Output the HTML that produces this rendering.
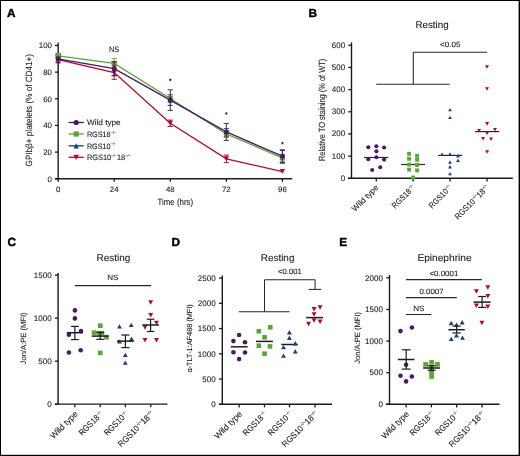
<!DOCTYPE html>
<html><head><meta charset="utf-8"><style>
html,body{margin:0;padding:0;background:#fff;}
svg{display:block;font-family:"Liberation Sans", sans-serif;will-change:transform;text-rendering:geometricPrecision;}
text{stroke:#1c1c1c;stroke-width:0.1px;}
</style></head><body>
<svg width="520" height="456" viewBox="0 0 520 456">
<rect width="520" height="456" fill="#fff"/>
<rect x="0" y="0" width="520" height="1" fill="#000"/>
<rect x="0" y="0" width="1" height="456" fill="#000"/>
<rect x="518.6" y="0" width="1.4" height="456" fill="#000"/>
<rect x="0" y="454.8" width="520" height="1.2" fill="#000"/>
<text x="7.00" y="16.90" font-size="11.8" text-anchor="start" fill="#000" font-weight="bold" style="stroke:#000;stroke-width:0.45px">A</text>
<text x="308.60" y="17.10" font-size="11.8" text-anchor="start" fill="#000" font-weight="bold" style="stroke:#000;stroke-width:0.45px">B</text>
<text x="7.60" y="246.30" font-size="11.8" text-anchor="start" fill="#000" font-weight="bold" style="stroke:#000;stroke-width:0.45px">C</text>
<text x="171.50" y="246.30" font-size="11.8" text-anchor="start" fill="#000" font-weight="bold" style="stroke:#000;stroke-width:0.45px">D</text>
<text x="339.30" y="245.90" font-size="11.8" text-anchor="start" fill="#000" font-weight="bold" style="stroke:#000;stroke-width:0.45px">E</text>
<line x1="58.15" y1="42.40" x2="58.15" y2="181.75" stroke="#1a1a1a" stroke-width="1.4"/>
<line x1="54.90" y1="178.75" x2="292.20" y2="178.75" stroke="#1a1a1a" stroke-width="1.4"/>
<line x1="54.90" y1="178.75" x2="58.15" y2="178.75" stroke="#1a1a1a" stroke-width="1.3"/>
<text x="52.00" y="181.50" font-size="7.9" text-anchor="end" fill="#1c1c1c" font-weight="normal">0</text>
<line x1="54.90" y1="152.09" x2="58.15" y2="152.09" stroke="#1a1a1a" stroke-width="1.3"/>
<text x="52.00" y="154.84" font-size="7.9" text-anchor="end" fill="#1c1c1c" font-weight="normal">20</text>
<line x1="54.90" y1="125.43" x2="58.15" y2="125.43" stroke="#1a1a1a" stroke-width="1.3"/>
<text x="52.00" y="128.18" font-size="7.9" text-anchor="end" fill="#1c1c1c" font-weight="normal">40</text>
<line x1="54.90" y1="98.77" x2="58.15" y2="98.77" stroke="#1a1a1a" stroke-width="1.3"/>
<text x="52.00" y="101.52" font-size="7.9" text-anchor="end" fill="#1c1c1c" font-weight="normal">60</text>
<line x1="54.90" y1="72.11" x2="58.15" y2="72.11" stroke="#1a1a1a" stroke-width="1.3"/>
<text x="52.00" y="74.86" font-size="7.9" text-anchor="end" fill="#1c1c1c" font-weight="normal">80</text>
<line x1="54.90" y1="45.45" x2="58.15" y2="45.45" stroke="#1a1a1a" stroke-width="1.3"/>
<text x="52.00" y="48.20" font-size="7.9" text-anchor="end" fill="#1c1c1c" font-weight="normal">100</text>
<line x1="114.21" y1="178.75" x2="114.21" y2="181.85" stroke="#1a1a1a" stroke-width="1.3"/>
<line x1="170.28" y1="178.75" x2="170.28" y2="181.85" stroke="#1a1a1a" stroke-width="1.3"/>
<line x1="226.34" y1="178.75" x2="226.34" y2="181.85" stroke="#1a1a1a" stroke-width="1.3"/>
<line x1="282.40" y1="178.75" x2="282.40" y2="181.85" stroke="#1a1a1a" stroke-width="1.3"/>
<text x="58.15" y="192.40" font-size="7.8" text-anchor="middle" fill="#1c1c1c" font-weight="normal">0</text>
<text x="114.21" y="192.40" font-size="7.8" text-anchor="middle" fill="#1c1c1c" font-weight="normal">24</text>
<text x="170.28" y="192.40" font-size="7.8" text-anchor="middle" fill="#1c1c1c" font-weight="normal">48</text>
<text x="226.34" y="192.40" font-size="7.8" text-anchor="middle" fill="#1c1c1c" font-weight="normal">72</text>
<text x="282.40" y="192.40" font-size="7.8" text-anchor="middle" fill="#1c1c1c" font-weight="normal">96</text>
<text x="175.30" y="204.90" font-size="9.0" text-anchor="middle" fill="#1c1c1c" font-weight="normal" textLength="35.60" lengthAdjust="spacingAndGlyphs">Time (hrs)</text>
<text transform="translate(32.30,110.20) rotate(-90)" font-size="9.1" text-anchor="middle" fill="#1c1c1c" textLength="112.50" lengthAdjust="spacingAndGlyphs">GPIbβ+ platelets (% of CD41+)</text>
<text x="114.10" y="51.70" font-size="8.0" text-anchor="middle" fill="#1c1c1c" font-weight="normal" textLength="10.30" lengthAdjust="spacingAndGlyphs">NS</text>
<polygon points="170.28,78.25 170.75,79.25 171.84,79.39 171.04,80.15 171.24,81.23 170.28,80.70 169.31,81.23 169.51,80.15 168.71,79.39 169.80,79.25" fill="#1c1c1c"/>
<polygon points="226.34,111.85 226.81,112.85 227.91,112.99 227.10,113.75 227.31,114.83 226.34,114.30 225.37,114.83 225.58,113.75 224.77,112.99 225.87,112.85" fill="#1c1c1c"/>
<polygon points="282.40,141.45 282.87,142.45 283.97,142.59 283.16,143.35 283.37,144.43 282.40,143.90 281.43,144.43 281.64,143.35 280.83,142.59 281.93,142.45" fill="#1c1c1c"/>
<polyline points="58.15,55.80 114.21,63.40 170.28,98.50 226.34,134.00 282.40,157.80" fill="none" stroke="#59a837" stroke-width="1.35"/>
<polyline points="58.15,59.60 114.21,72.60 170.28,123.30 226.34,158.80 282.40,171.60" fill="none" stroke="#b00b2e" stroke-width="1.35"/>
<polyline points="58.15,58.90 114.21,68.70 170.28,100.10 226.34,131.90 282.40,156.20" fill="none" stroke="#4a1966" stroke-width="1.35"/>
<line x1="114.21" y1="61.60" x2="114.21" y2="75.80" stroke="#1a3f80" stroke-width="0.95"/>
<line x1="111.61" y1="61.60" x2="116.81" y2="61.60" stroke="#1a3f80" stroke-width="0.95"/>
<line x1="111.61" y1="75.80" x2="116.81" y2="75.80" stroke="#1a3f80" stroke-width="0.95"/>
<line x1="170.28" y1="94.80" x2="170.28" y2="105.40" stroke="#1a3f80" stroke-width="0.95"/>
<line x1="167.68" y1="94.80" x2="172.88" y2="94.80" stroke="#1a3f80" stroke-width="0.95"/>
<line x1="167.68" y1="105.40" x2="172.88" y2="105.40" stroke="#1a3f80" stroke-width="0.95"/>
<line x1="226.34" y1="128.60" x2="226.34" y2="136.60" stroke="#1a3f80" stroke-width="0.95"/>
<line x1="223.74" y1="128.60" x2="228.94" y2="128.60" stroke="#1a3f80" stroke-width="0.95"/>
<line x1="223.74" y1="136.60" x2="228.94" y2="136.60" stroke="#1a3f80" stroke-width="0.95"/>
<line x1="282.40" y1="150.60" x2="282.40" y2="163.20" stroke="#1a3f80" stroke-width="0.95"/>
<line x1="279.80" y1="150.60" x2="285.00" y2="150.60" stroke="#1a3f80" stroke-width="0.95"/>
<line x1="279.80" y1="163.20" x2="285.00" y2="163.20" stroke="#1a3f80" stroke-width="0.95"/>
<path d="M58.15 56.40L60.77 61.40L55.52 61.40Z" fill="#1a3f80"/>
<path d="M114.21 66.20L116.84 71.20L111.59 71.20Z" fill="#1a3f80"/>
<path d="M170.28 97.60L172.90 102.60L167.65 102.60Z" fill="#1a3f80"/>
<path d="M226.34 130.10L228.96 135.10L223.71 135.10Z" fill="#1a3f80"/>
<path d="M282.40 154.40L285.02 159.40L279.77 159.40Z" fill="#1a3f80"/>
<line x1="58.15" y1="53.30" x2="58.15" y2="58.30" stroke="#59a837" stroke-width="0.95"/>
<line x1="55.55" y1="53.30" x2="60.75" y2="53.30" stroke="#59a837" stroke-width="0.95"/>
<line x1="55.55" y1="58.30" x2="60.75" y2="58.30" stroke="#59a837" stroke-width="0.95"/>
<line x1="114.21" y1="58.60" x2="114.21" y2="68.20" stroke="#59a837" stroke-width="0.95"/>
<line x1="111.61" y1="58.60" x2="116.81" y2="58.60" stroke="#59a837" stroke-width="0.95"/>
<line x1="111.61" y1="68.20" x2="116.81" y2="68.20" stroke="#59a837" stroke-width="0.95"/>
<line x1="170.28" y1="94.50" x2="170.28" y2="102.50" stroke="#59a837" stroke-width="0.95"/>
<line x1="167.68" y1="94.50" x2="172.88" y2="94.50" stroke="#59a837" stroke-width="0.95"/>
<line x1="167.68" y1="102.50" x2="172.88" y2="102.50" stroke="#59a837" stroke-width="0.95"/>
<line x1="226.34" y1="130.50" x2="226.34" y2="137.50" stroke="#59a837" stroke-width="0.95"/>
<line x1="223.74" y1="130.50" x2="228.94" y2="130.50" stroke="#59a837" stroke-width="0.95"/>
<line x1="223.74" y1="137.50" x2="228.94" y2="137.50" stroke="#59a837" stroke-width="0.95"/>
<line x1="282.40" y1="154.30" x2="282.40" y2="161.30" stroke="#59a837" stroke-width="0.95"/>
<line x1="279.80" y1="154.30" x2="285.00" y2="154.30" stroke="#59a837" stroke-width="0.95"/>
<line x1="279.80" y1="161.30" x2="285.00" y2="161.30" stroke="#59a837" stroke-width="0.95"/>
<rect x="55.65" y="53.30" width="5.0" height="5.0" fill="#59a837"/>
<rect x="111.71" y="60.90" width="5.0" height="5.0" fill="#59a837"/>
<rect x="167.78" y="96.00" width="5.0" height="5.0" fill="#59a837"/>
<rect x="223.84" y="131.50" width="5.0" height="5.0" fill="#59a837"/>
<rect x="279.90" y="155.30" width="5.0" height="5.0" fill="#59a837"/>
<line x1="58.15" y1="56.60" x2="58.15" y2="62.60" stroke="#b00b2e" stroke-width="0.95"/>
<line x1="55.55" y1="56.60" x2="60.75" y2="56.60" stroke="#b00b2e" stroke-width="0.95"/>
<line x1="55.55" y1="62.60" x2="60.75" y2="62.60" stroke="#b00b2e" stroke-width="0.95"/>
<line x1="114.21" y1="65.90" x2="114.21" y2="79.30" stroke="#b00b2e" stroke-width="0.95"/>
<line x1="111.61" y1="65.90" x2="116.81" y2="65.90" stroke="#b00b2e" stroke-width="0.95"/>
<line x1="111.61" y1="79.30" x2="116.81" y2="79.30" stroke="#b00b2e" stroke-width="0.95"/>
<line x1="170.28" y1="120.10" x2="170.28" y2="126.50" stroke="#b00b2e" stroke-width="0.95"/>
<line x1="167.68" y1="120.10" x2="172.88" y2="120.10" stroke="#b00b2e" stroke-width="0.95"/>
<line x1="167.68" y1="126.50" x2="172.88" y2="126.50" stroke="#b00b2e" stroke-width="0.95"/>
<line x1="226.34" y1="155.00" x2="226.34" y2="162.60" stroke="#b00b2e" stroke-width="0.95"/>
<line x1="223.74" y1="155.00" x2="228.94" y2="155.00" stroke="#b00b2e" stroke-width="0.95"/>
<line x1="223.74" y1="162.60" x2="228.94" y2="162.60" stroke="#b00b2e" stroke-width="0.95"/>
<path d="M55.52 57.10L60.77 57.10L58.15 62.10Z" fill="#b00b2e"/>
<path d="M111.59 70.10L116.84 70.10L114.21 75.10Z" fill="#b00b2e"/>
<path d="M167.65 120.80L172.90 120.80L170.28 125.80Z" fill="#b00b2e"/>
<path d="M223.71 156.30L228.96 156.30L226.34 161.30Z" fill="#b00b2e"/>
<path d="M279.77 169.10L285.02 169.10L282.40 174.10Z" fill="#b00b2e"/>
<line x1="58.15" y1="55.00" x2="58.15" y2="62.80" stroke="#4a1966" stroke-width="0.95"/>
<line x1="55.55" y1="55.00" x2="60.75" y2="55.00" stroke="#4a1966" stroke-width="0.95"/>
<line x1="55.55" y1="62.80" x2="60.75" y2="62.80" stroke="#4a1966" stroke-width="0.95"/>
<line x1="114.21" y1="61.80" x2="114.21" y2="75.60" stroke="#4a1966" stroke-width="0.95"/>
<line x1="111.61" y1="61.80" x2="116.81" y2="61.80" stroke="#4a1966" stroke-width="0.95"/>
<line x1="111.61" y1="75.60" x2="116.81" y2="75.60" stroke="#4a1966" stroke-width="0.95"/>
<line x1="170.28" y1="89.80" x2="170.28" y2="110.40" stroke="#4a1966" stroke-width="0.95"/>
<line x1="167.68" y1="89.80" x2="172.88" y2="89.80" stroke="#4a1966" stroke-width="0.95"/>
<line x1="167.68" y1="110.40" x2="172.88" y2="110.40" stroke="#4a1966" stroke-width="0.95"/>
<line x1="226.34" y1="123.40" x2="226.34" y2="140.40" stroke="#4a1966" stroke-width="0.95"/>
<line x1="223.74" y1="123.40" x2="228.94" y2="123.40" stroke="#4a1966" stroke-width="0.95"/>
<line x1="223.74" y1="140.40" x2="228.94" y2="140.40" stroke="#4a1966" stroke-width="0.95"/>
<line x1="282.40" y1="149.80" x2="282.40" y2="162.60" stroke="#4a1966" stroke-width="0.95"/>
<line x1="279.80" y1="149.80" x2="285.00" y2="149.80" stroke="#4a1966" stroke-width="0.95"/>
<line x1="279.80" y1="162.60" x2="285.00" y2="162.60" stroke="#4a1966" stroke-width="0.95"/>
<circle cx="58.15" cy="58.90" r="2.5" fill="#4a1966"/>
<circle cx="114.21" cy="68.70" r="2.5" fill="#4a1966"/>
<circle cx="170.28" cy="100.10" r="2.5" fill="#4a1966"/>
<circle cx="226.34" cy="131.90" r="2.5" fill="#4a1966"/>
<circle cx="282.40" cy="156.20" r="2.5" fill="#4a1966"/>
<rect x="55.65" y="53.0" width="5" height="3.2" fill="#59a837"/>
<line x1="68.60" y1="122.50" x2="83.80" y2="122.50" stroke="#4a1966" stroke-width="1.3"/>
<circle cx="76.20" cy="122.50" r="2.6" fill="#4a1966"/>
<text x="86.90" y="125.30" font-size="7.8" text-anchor="start" fill="#1c1c1c" font-weight="normal" textLength="33.80" lengthAdjust="spacingAndGlyphs">Wild type</text>
<line x1="68.60" y1="134.00" x2="83.80" y2="134.00" stroke="#59a837" stroke-width="1.3"/>
<rect x="73.60" y="131.40" width="5.2" height="5.2" fill="#59a837"/>
<text x="86.90" y="136.80" font-size="7.8" text-anchor="start" fill="#1c1c1c" font-weight="normal" textLength="29.40" lengthAdjust="spacingAndGlyphs">RGS18<tspan font-size="4.2" dy="-3.3">−/−</tspan></text>
<line x1="68.60" y1="145.80" x2="83.80" y2="145.80" stroke="#1a3f80" stroke-width="1.3"/>
<path d="M76.20 143.20L78.93 148.40L73.47 148.40Z" fill="#1a3f80"/>
<text x="86.90" y="148.60" font-size="7.8" text-anchor="start" fill="#1c1c1c" font-weight="normal" textLength="29.40" lengthAdjust="spacingAndGlyphs">RGS10<tspan font-size="4.2" dy="-3.3">−/−</tspan></text>
<line x1="68.60" y1="157.30" x2="83.80" y2="157.30" stroke="#b00b2e" stroke-width="1.3"/>
<path d="M73.47 154.70L78.93 154.70L76.20 159.90Z" fill="#b00b2e"/>
<text x="86.90" y="160.10" font-size="7.8" text-anchor="start" fill="#1c1c1c" font-weight="normal" textLength="44.00" lengthAdjust="spacingAndGlyphs">RGS10<tspan font-size="4.2" dy="-3.3">−/−</tspan><tspan dy="3.3">18</tspan><tspan font-size="4.2" dy="-3.3">−/−</tspan></text>
<line x1="351.50" y1="42.40" x2="351.50" y2="179.00" stroke="#1a1a1a" stroke-width="1.4"/>
<line x1="348.00" y1="178.30" x2="512.80" y2="178.30" stroke="#1a1a1a" stroke-width="1.4"/>
<line x1="348.25" y1="178.30" x2="351.50" y2="178.30" stroke="#1a1a1a" stroke-width="1.3"/>
<text x="345.10" y="180.80" font-size="8.0" text-anchor="end" fill="#1c1c1c" font-weight="normal">0</text>
<line x1="348.25" y1="156.13" x2="351.50" y2="156.13" stroke="#1a1a1a" stroke-width="1.3"/>
<text x="345.10" y="158.63" font-size="8.0" text-anchor="end" fill="#1c1c1c" font-weight="normal">100</text>
<line x1="348.25" y1="133.96" x2="351.50" y2="133.96" stroke="#1a1a1a" stroke-width="1.3"/>
<text x="345.10" y="136.46" font-size="8.0" text-anchor="end" fill="#1c1c1c" font-weight="normal">200</text>
<line x1="348.25" y1="111.79" x2="351.50" y2="111.79" stroke="#1a1a1a" stroke-width="1.3"/>
<text x="345.10" y="114.29" font-size="8.0" text-anchor="end" fill="#1c1c1c" font-weight="normal">300</text>
<line x1="348.25" y1="89.62" x2="351.50" y2="89.62" stroke="#1a1a1a" stroke-width="1.3"/>
<text x="345.10" y="92.12" font-size="8.0" text-anchor="end" fill="#1c1c1c" font-weight="normal">400</text>
<line x1="348.25" y1="67.45" x2="351.50" y2="67.45" stroke="#1a1a1a" stroke-width="1.3"/>
<text x="345.10" y="69.95" font-size="8.0" text-anchor="end" fill="#1c1c1c" font-weight="normal">500</text>
<line x1="348.25" y1="45.28" x2="351.50" y2="45.28" stroke="#1a1a1a" stroke-width="1.3"/>
<text x="345.10" y="47.78" font-size="8.0" text-anchor="end" fill="#1c1c1c" font-weight="normal">600</text>
<line x1="376.30" y1="178.30" x2="376.30" y2="181.40" stroke="#1a1a1a" stroke-width="1.3"/>
<line x1="413.10" y1="178.30" x2="413.10" y2="181.40" stroke="#1a1a1a" stroke-width="1.3"/>
<line x1="450.00" y1="178.30" x2="450.00" y2="181.40" stroke="#1a1a1a" stroke-width="1.3"/>
<line x1="487.10" y1="178.30" x2="487.10" y2="181.40" stroke="#1a1a1a" stroke-width="1.3"/>
<text x="432.00" y="28.10" font-size="9.8" text-anchor="middle" fill="#1c1c1c" font-weight="normal" textLength="33.20" lengthAdjust="spacingAndGlyphs">Resting</text>
<text transform="translate(325.20,109.90) rotate(-90)" font-size="9.0" text-anchor="middle" fill="#1c1c1c" textLength="102.40" lengthAdjust="spacingAndGlyphs">Relative TO staining (% of WT)</text>
<line x1="376.20" y1="84.20" x2="449.70" y2="84.20" stroke="#262626" stroke-width="1.05"/>
<line x1="413.30" y1="84.20" x2="413.30" y2="52.30" stroke="#262626" stroke-width="1.05"/>
<line x1="413.30" y1="52.30" x2="487.00" y2="52.30" stroke="#262626" stroke-width="1.05"/>
<text x="450.20" y="46.80" font-size="7.6" text-anchor="middle" fill="#1c1c1c" font-weight="normal" textLength="20.30" lengthAdjust="spacingAndGlyphs">&lt;0.05</text>
<line x1="364.00" y1="157.50" x2="388.30" y2="157.50" stroke="#2a2a2a" stroke-width="1.2"/>
<line x1="401.10" y1="164.50" x2="425.10" y2="164.50" stroke="#2a2a2a" stroke-width="1.2"/>
<line x1="438.10" y1="155.40" x2="462.20" y2="155.40" stroke="#2a2a2a" stroke-width="1.2"/>
<line x1="474.90" y1="131.60" x2="499.30" y2="131.60" stroke="#2a2a2a" stroke-width="1.2"/>
<circle cx="368.30" cy="147.30" r="2.05" fill="#4a1966"/>
<circle cx="376.40" cy="146.30" r="2.05" fill="#4a1966"/>
<circle cx="384.10" cy="147.50" r="2.05" fill="#4a1966"/>
<circle cx="376.40" cy="151.20" r="2.05" fill="#4a1966"/>
<circle cx="368.30" cy="159.30" r="2.05" fill="#4a1966"/>
<circle cx="376.40" cy="157.30" r="2.05" fill="#4a1966"/>
<circle cx="384.10" cy="159.60" r="2.05" fill="#4a1966"/>
<circle cx="380.20" cy="167.30" r="2.05" fill="#4a1966"/>
<circle cx="372.20" cy="170.00" r="2.05" fill="#4a1966"/>
<rect x="407.15" y="151.85" width="3.9" height="3.9" fill="#59a837"/>
<rect x="407.15" y="156.85" width="3.9" height="3.9" fill="#59a837"/>
<rect x="407.15" y="162.55" width="3.9" height="3.9" fill="#59a837"/>
<rect x="407.15" y="167.65" width="3.9" height="3.9" fill="#59a837"/>
<rect x="415.15" y="153.85" width="3.9" height="3.9" fill="#59a837"/>
<rect x="415.15" y="157.85" width="3.9" height="3.9" fill="#59a837"/>
<rect x="415.15" y="163.05" width="3.9" height="3.9" fill="#59a837"/>
<rect x="415.15" y="168.45" width="3.9" height="3.9" fill="#59a837"/>
<rect x="411.15" y="175.55" width="3.9" height="3.9" fill="#59a837"/>
<path d="M450.00 107.90L451.90 111.30L448.10 111.30Z" fill="#1a3f80"/>
<path d="M450.00 115.70L451.90 119.10L448.10 119.10Z" fill="#1a3f80"/>
<path d="M442.10 152.50L444.00 155.90L440.20 155.90Z" fill="#1a3f80"/>
<path d="M450.00 152.30L451.90 155.70L448.10 155.70Z" fill="#1a3f80"/>
<path d="M458.00 154.00L459.90 157.40L456.10 157.40Z" fill="#1a3f80"/>
<path d="M458.00 158.60L459.90 162.00L456.10 162.00Z" fill="#1a3f80"/>
<path d="M450.00 160.30L451.90 163.70L448.10 163.70Z" fill="#1a3f80"/>
<path d="M450.00 165.00L451.90 168.40L448.10 168.40Z" fill="#1a3f80"/>
<path d="M450.00 171.90L451.90 175.30L448.10 175.30Z" fill="#1a3f80"/>
<path d="M485.00 65.20L489.00 65.20L487.00 68.80Z" fill="#b00b2e"/>
<path d="M485.00 87.20L489.00 87.20L487.00 90.80Z" fill="#b00b2e"/>
<path d="M485.10 122.10L489.10 122.10L487.10 125.70Z" fill="#b00b2e"/>
<path d="M477.10 129.00L481.10 129.00L479.10 132.60Z" fill="#b00b2e"/>
<path d="M493.00 128.00L497.00 128.00L495.00 131.60Z" fill="#b00b2e"/>
<path d="M485.10 131.40L489.10 131.40L487.10 135.00Z" fill="#b00b2e"/>
<path d="M481.10 136.90L485.10 136.90L483.10 140.50Z" fill="#b00b2e"/>
<path d="M489.00 137.40L493.00 137.40L491.00 141.00Z" fill="#b00b2e"/>
<path d="M485.10 150.20L489.10 150.20L487.10 153.80Z" fill="#b00b2e"/>
<text transform="translate(379.00,188.10) rotate(-45)" font-size="8.2" text-anchor="end" fill="#1c1c1c" textLength="33.80" lengthAdjust="spacingAndGlyphs">Wild type</text>
<text transform="translate(415.80,188.10) rotate(-45)" font-size="8.2" text-anchor="end" fill="#1c1c1c" textLength="29.40" lengthAdjust="spacingAndGlyphs">RGS18<tspan font-size="4.2" dy="-3.3">−/−</tspan></text>
<text transform="translate(452.70,188.10) rotate(-45)" font-size="8.2" text-anchor="end" fill="#1c1c1c" textLength="29.40" lengthAdjust="spacingAndGlyphs">RGS10<tspan font-size="4.2" dy="-3.3">−/−</tspan></text>
<text transform="translate(489.80,188.10) rotate(-45)" font-size="8.2" text-anchor="end" fill="#1c1c1c" textLength="45.00" lengthAdjust="spacingAndGlyphs">RGS10<tspan font-size="4.2" dy="-3.3">−/−</tspan><tspan dy="3.3">18</tspan><tspan font-size="4.2" dy="-3.3">−/−</tspan></text>
<line x1="58.10" y1="272.90" x2="58.10" y2="404.85" stroke="#1a1a1a" stroke-width="1.4"/>
<line x1="54.90" y1="404.15" x2="167.50" y2="404.15" stroke="#1a1a1a" stroke-width="1.4"/>
<line x1="54.85" y1="404.15" x2="58.10" y2="404.15" stroke="#1a1a1a" stroke-width="1.3"/>
<text x="51.60" y="406.90" font-size="8.0" text-anchor="end" fill="#1c1c1c" font-weight="normal">0</text>
<line x1="54.85" y1="361.15" x2="58.10" y2="361.15" stroke="#1a1a1a" stroke-width="1.3"/>
<text x="51.60" y="363.90" font-size="8.0" text-anchor="end" fill="#1c1c1c" font-weight="normal">500</text>
<line x1="54.85" y1="318.15" x2="58.10" y2="318.15" stroke="#1a1a1a" stroke-width="1.3"/>
<text x="51.60" y="320.90" font-size="8.0" text-anchor="end" fill="#1c1c1c" font-weight="normal">1000</text>
<line x1="54.85" y1="275.15" x2="58.10" y2="275.15" stroke="#1a1a1a" stroke-width="1.3"/>
<text x="51.60" y="277.90" font-size="8.0" text-anchor="end" fill="#1c1c1c" font-weight="normal">1500</text>
<line x1="74.80" y1="404.15" x2="74.80" y2="407.25" stroke="#1a1a1a" stroke-width="1.3"/>
<line x1="100.20" y1="404.15" x2="100.20" y2="407.25" stroke="#1a1a1a" stroke-width="1.3"/>
<line x1="125.40" y1="404.15" x2="125.40" y2="407.25" stroke="#1a1a1a" stroke-width="1.3"/>
<line x1="150.80" y1="404.15" x2="150.80" y2="407.25" stroke="#1a1a1a" stroke-width="1.3"/>
<text x="113.40" y="260.90" font-size="9.8" text-anchor="middle" fill="#1c1c1c" font-weight="normal" textLength="33.60" lengthAdjust="spacingAndGlyphs">Resting</text>
<text x="112.90" y="279.90" font-size="7.6" text-anchor="middle" fill="#1c1c1c" font-weight="normal" textLength="11.20" lengthAdjust="spacingAndGlyphs">NS</text>
<line x1="74.80" y1="285.60" x2="151.00" y2="285.60" stroke="#262626" stroke-width="1.05"/>
<text transform="translate(25.90,338.40) rotate(-90)" font-size="7.6" text-anchor="middle" fill="#1c1c1c" textLength="52.00" lengthAdjust="spacingAndGlyphs">Jon/A:PE (MFI)</text>
<circle cx="74.90" cy="310.40" r="2.3" fill="#4a1966"/>
<circle cx="74.90" cy="318.40" r="2.3" fill="#4a1966"/>
<circle cx="81.00" cy="331.10" r="2.3" fill="#4a1966"/>
<circle cx="68.90" cy="334.80" r="2.3" fill="#4a1966"/>
<circle cx="68.90" cy="352.50" r="2.3" fill="#4a1966"/>
<circle cx="80.70" cy="350.20" r="2.3" fill="#4a1966"/>
<rect x="98.00" y="323.40" width="4.6" height="4.6" fill="#59a837"/>
<rect x="91.70" y="330.30" width="4.6" height="4.6" fill="#59a837"/>
<rect x="96.50" y="330.90" width="4.6" height="4.6" fill="#59a837"/>
<rect x="99.70" y="330.90" width="4.6" height="4.6" fill="#59a837"/>
<rect x="104.20" y="335.00" width="4.6" height="4.6" fill="#59a837"/>
<rect x="98.00" y="350.60" width="4.6" height="4.6" fill="#59a837"/>
<path d="M119.50 324.20L121.95 328.60L117.05 328.60Z" fill="#1a3f80"/>
<path d="M131.20 322.70L133.65 327.10L128.75 327.10Z" fill="#1a3f80"/>
<path d="M131.50 336.50L133.95 340.90L129.05 340.90Z" fill="#1a3f80"/>
<path d="M119.50 339.20L121.95 343.60L117.05 343.60Z" fill="#1a3f80"/>
<path d="M125.30 352.70L127.75 357.10L122.85 357.10Z" fill="#1a3f80"/>
<path d="M125.30 360.40L127.75 364.80L122.85 364.80Z" fill="#1a3f80"/>
<path d="M148.20 300.25L153.20 300.25L150.70 304.75Z" fill="#b00b2e"/>
<path d="M148.20 313.05L153.20 313.05L150.70 317.55Z" fill="#b00b2e"/>
<path d="M154.00 320.75L159.00 320.75L156.50 325.25Z" fill="#b00b2e"/>
<path d="M142.50 325.35L147.50 325.35L145.00 329.85Z" fill="#b00b2e"/>
<path d="M142.50 337.95L147.50 337.95L145.00 342.45Z" fill="#b00b2e"/>
<path d="M154.00 337.95L159.00 337.95L156.50 342.45Z" fill="#b00b2e"/>
<line x1="66.85" y1="332.70" x2="82.95" y2="332.70" stroke="#1c1c1c" stroke-width="1.5"/>
<line x1="74.90" y1="326.40" x2="74.90" y2="339.60" stroke="#1c1c1c" stroke-width="1.2"/>
<line x1="71.05" y1="326.40" x2="78.75" y2="326.40" stroke="#1c1c1c" stroke-width="1.2"/>
<line x1="71.05" y1="339.60" x2="78.75" y2="339.60" stroke="#1c1c1c" stroke-width="1.2"/>
<line x1="91.80" y1="336.10" x2="108.60" y2="336.10" stroke="#1c1c1c" stroke-width="1.5"/>
<line x1="100.20" y1="332.40" x2="100.20" y2="339.30" stroke="#1c1c1c" stroke-width="1.2"/>
<line x1="96.30" y1="332.40" x2="104.10" y2="332.40" stroke="#1c1c1c" stroke-width="1.2"/>
<line x1="96.30" y1="339.30" x2="104.10" y2="339.30" stroke="#1c1c1c" stroke-width="1.2"/>
<line x1="116.95" y1="341.10" x2="133.85" y2="341.10" stroke="#1c1c1c" stroke-width="1.5"/>
<line x1="125.40" y1="335.00" x2="125.40" y2="347.60" stroke="#1c1c1c" stroke-width="1.2"/>
<line x1="121.35" y1="335.00" x2="129.45" y2="335.00" stroke="#1c1c1c" stroke-width="1.2"/>
<line x1="121.35" y1="347.60" x2="129.45" y2="347.60" stroke="#1c1c1c" stroke-width="1.2"/>
<line x1="142.30" y1="325.00" x2="158.90" y2="325.00" stroke="#1c1c1c" stroke-width="1.5"/>
<line x1="150.60" y1="319.20" x2="150.60" y2="331.50" stroke="#1c1c1c" stroke-width="1.2"/>
<line x1="146.75" y1="319.20" x2="154.45" y2="319.20" stroke="#1c1c1c" stroke-width="1.2"/>
<line x1="146.75" y1="331.50" x2="154.45" y2="331.50" stroke="#1c1c1c" stroke-width="1.2"/>
<text transform="translate(78.40,414.45) rotate(-45)" font-size="8.6" text-anchor="end" fill="#1c1c1c" textLength="35.15" lengthAdjust="spacingAndGlyphs">Wild type</text>
<text transform="translate(103.80,414.45) rotate(-45)" font-size="8.6" text-anchor="end" fill="#1c1c1c" textLength="30.58" lengthAdjust="spacingAndGlyphs">RGS18<tspan font-size="4.2" dy="-3.3">−/−</tspan></text>
<text transform="translate(129.00,414.45) rotate(-45)" font-size="8.6" text-anchor="end" fill="#1c1c1c" textLength="30.58" lengthAdjust="spacingAndGlyphs">RGS10<tspan font-size="4.2" dy="-3.3">−/−</tspan></text>
<text transform="translate(154.40,414.45) rotate(-45)" font-size="8.6" text-anchor="end" fill="#1c1c1c" textLength="46.80" lengthAdjust="spacingAndGlyphs">RGS10<tspan font-size="4.2" dy="-3.3">−/−</tspan><tspan dy="3.3">18</tspan><tspan font-size="4.2" dy="-3.3">−/−</tspan></text>
<line x1="222.30" y1="275.50" x2="222.30" y2="405.00" stroke="#1a1a1a" stroke-width="1.4"/>
<line x1="218.90" y1="404.30" x2="332.00" y2="404.30" stroke="#1a1a1a" stroke-width="1.4"/>
<line x1="219.05" y1="404.30" x2="222.30" y2="404.30" stroke="#1a1a1a" stroke-width="1.3"/>
<text x="215.60" y="407.05" font-size="8.0" text-anchor="end" fill="#1c1c1c" font-weight="normal">0</text>
<line x1="219.05" y1="379.05" x2="222.30" y2="379.05" stroke="#1a1a1a" stroke-width="1.3"/>
<text x="215.60" y="381.80" font-size="8.0" text-anchor="end" fill="#1c1c1c" font-weight="normal">500</text>
<line x1="219.05" y1="353.80" x2="222.30" y2="353.80" stroke="#1a1a1a" stroke-width="1.3"/>
<text x="215.60" y="356.55" font-size="8.0" text-anchor="end" fill="#1c1c1c" font-weight="normal">1000</text>
<line x1="219.05" y1="328.55" x2="222.30" y2="328.55" stroke="#1a1a1a" stroke-width="1.3"/>
<text x="215.60" y="331.30" font-size="8.0" text-anchor="end" fill="#1c1c1c" font-weight="normal">1500</text>
<line x1="219.05" y1="303.30" x2="222.30" y2="303.30" stroke="#1a1a1a" stroke-width="1.3"/>
<text x="215.60" y="306.05" font-size="8.0" text-anchor="end" fill="#1c1c1c" font-weight="normal">2000</text>
<line x1="219.05" y1="278.05" x2="222.30" y2="278.05" stroke="#1a1a1a" stroke-width="1.3"/>
<text x="215.60" y="280.80" font-size="8.0" text-anchor="end" fill="#1c1c1c" font-weight="normal">2500</text>
<line x1="239.20" y1="404.30" x2="239.20" y2="407.40" stroke="#1a1a1a" stroke-width="1.3"/>
<line x1="264.50" y1="404.30" x2="264.50" y2="407.40" stroke="#1a1a1a" stroke-width="1.3"/>
<line x1="289.50" y1="404.30" x2="289.50" y2="407.40" stroke="#1a1a1a" stroke-width="1.3"/>
<line x1="315.00" y1="404.30" x2="315.00" y2="407.40" stroke="#1a1a1a" stroke-width="1.3"/>
<text x="277.60" y="261.00" font-size="9.8" text-anchor="middle" fill="#1c1c1c" font-weight="normal" textLength="33.60" lengthAdjust="spacingAndGlyphs">Resting</text>
<line x1="238.90" y1="311.80" x2="289.60" y2="311.80" stroke="#262626" stroke-width="1.05"/>
<line x1="264.50" y1="311.80" x2="264.50" y2="279.80" stroke="#262626" stroke-width="1.05"/>
<line x1="264.50" y1="279.80" x2="315.10" y2="279.80" stroke="#262626" stroke-width="1.05"/>
<line x1="315.10" y1="279.80" x2="315.10" y2="289.40" stroke="#262626" stroke-width="1.05"/>
<line x1="308.60" y1="289.40" x2="321.30" y2="289.40" stroke="#262626" stroke-width="1.05"/>
<text x="289.90" y="274.30" font-size="7.6" text-anchor="middle" fill="#1c1c1c" font-weight="normal" textLength="24.00" lengthAdjust="spacingAndGlyphs">&lt;0.001</text>
<text transform="translate(192.30,338.40) rotate(-90)" font-size="7.4" text-anchor="middle" fill="#1c1c1c" textLength="68.40" lengthAdjust="spacingAndGlyphs">α-TLT-1:AF488 (MFI)</text>
<line x1="230.80" y1="346.80" x2="247.70" y2="346.80" stroke="#1c1c1c" stroke-width="1.5"/>
<line x1="256.00" y1="341.40" x2="272.90" y2="341.40" stroke="#1c1c1c" stroke-width="1.5"/>
<line x1="281.30" y1="344.50" x2="297.70" y2="344.50" stroke="#1c1c1c" stroke-width="1.5"/>
<line x1="306.20" y1="317.60" x2="323.00" y2="317.60" stroke="#1c1c1c" stroke-width="1.5"/>
<circle cx="239.10" cy="335.00" r="2.3" fill="#4a1966"/>
<circle cx="233.40" cy="341.10" r="2.3" fill="#4a1966"/>
<circle cx="245.00" cy="342.20" r="2.3" fill="#4a1966"/>
<circle cx="233.40" cy="352.20" r="2.3" fill="#4a1966"/>
<circle cx="245.00" cy="352.50" r="2.3" fill="#4a1966"/>
<circle cx="239.10" cy="359.10" r="2.3" fill="#4a1966"/>
<rect x="268.00" y="325.00" width="4.6" height="4.6" fill="#59a837"/>
<rect x="256.50" y="328.90" width="4.6" height="4.6" fill="#59a837"/>
<rect x="262.30" y="335.00" width="4.6" height="4.6" fill="#59a837"/>
<rect x="256.50" y="343.40" width="4.6" height="4.6" fill="#59a837"/>
<rect x="267.70" y="344.10" width="4.6" height="4.6" fill="#59a837"/>
<rect x="262.30" y="351.40" width="4.6" height="4.6" fill="#59a837"/>
<path d="M289.40 330.10L291.85 334.50L286.95 334.50Z" fill="#1a3f80"/>
<path d="M289.40 335.60L291.85 340.00L286.95 340.00Z" fill="#1a3f80"/>
<path d="M295.30 341.00L297.75 345.40L292.85 345.40Z" fill="#1a3f80"/>
<path d="M283.50 344.90L285.95 349.30L281.05 349.30Z" fill="#1a3f80"/>
<path d="M295.30 349.20L297.75 353.60L292.85 353.60Z" fill="#1a3f80"/>
<path d="M283.50 353.40L285.95 357.80L281.05 357.80Z" fill="#1a3f80"/>
<path d="M317.60 305.15L322.60 305.15L320.10 309.65Z" fill="#b00b2e"/>
<path d="M311.60 306.95L316.60 306.95L314.10 311.45Z" fill="#b00b2e"/>
<path d="M311.60 312.35L316.60 312.35L314.10 316.85Z" fill="#b00b2e"/>
<path d="M311.60 318.35L316.60 318.35L314.10 322.85Z" fill="#b00b2e"/>
<path d="M317.60 319.45L322.60 319.45L320.10 323.95Z" fill="#b00b2e"/>
<path d="M306.10 321.65L311.10 321.65L308.60 326.15Z" fill="#b00b2e"/>
<text transform="translate(242.60,414.60) rotate(-45)" font-size="8.6" text-anchor="end" fill="#1c1c1c" textLength="35.15" lengthAdjust="spacingAndGlyphs">Wild type</text>
<text transform="translate(267.90,414.60) rotate(-45)" font-size="8.6" text-anchor="end" fill="#1c1c1c" textLength="30.58" lengthAdjust="spacingAndGlyphs">RGS18<tspan font-size="4.2" dy="-3.3">−/−</tspan></text>
<text transform="translate(292.90,414.60) rotate(-45)" font-size="8.6" text-anchor="end" fill="#1c1c1c" textLength="30.58" lengthAdjust="spacingAndGlyphs">RGS10<tspan font-size="4.2" dy="-3.3">−/−</tspan></text>
<text transform="translate(318.40,414.60) rotate(-45)" font-size="8.6" text-anchor="end" fill="#1c1c1c" textLength="46.80" lengthAdjust="spacingAndGlyphs">RGS10<tspan font-size="4.2" dy="-3.3">−/−</tspan><tspan dy="3.3">18</tspan><tspan font-size="4.2" dy="-3.3">−/−</tspan></text>
<line x1="389.50" y1="274.90" x2="389.50" y2="405.00" stroke="#1a1a1a" stroke-width="1.4"/>
<line x1="385.90" y1="404.30" x2="499.60" y2="404.30" stroke="#1a1a1a" stroke-width="1.4"/>
<line x1="386.25" y1="404.30" x2="389.50" y2="404.30" stroke="#1a1a1a" stroke-width="1.3"/>
<text x="382.90" y="407.05" font-size="8.0" text-anchor="end" fill="#1c1c1c" font-weight="normal">0</text>
<line x1="386.25" y1="372.68" x2="389.50" y2="372.68" stroke="#1a1a1a" stroke-width="1.3"/>
<text x="382.90" y="375.43" font-size="8.0" text-anchor="end" fill="#1c1c1c" font-weight="normal">500</text>
<line x1="386.25" y1="341.05" x2="389.50" y2="341.05" stroke="#1a1a1a" stroke-width="1.3"/>
<text x="382.90" y="343.80" font-size="8.0" text-anchor="end" fill="#1c1c1c" font-weight="normal">1000</text>
<line x1="386.25" y1="309.43" x2="389.50" y2="309.43" stroke="#1a1a1a" stroke-width="1.3"/>
<text x="382.90" y="312.18" font-size="8.0" text-anchor="end" fill="#1c1c1c" font-weight="normal">1500</text>
<line x1="386.25" y1="277.80" x2="389.50" y2="277.80" stroke="#1a1a1a" stroke-width="1.3"/>
<text x="382.90" y="280.55" font-size="8.0" text-anchor="end" fill="#1c1c1c" font-weight="normal">2000</text>
<line x1="406.20" y1="404.30" x2="406.20" y2="407.40" stroke="#1a1a1a" stroke-width="1.3"/>
<line x1="431.40" y1="404.30" x2="431.40" y2="407.40" stroke="#1a1a1a" stroke-width="1.3"/>
<line x1="456.70" y1="404.30" x2="456.70" y2="407.40" stroke="#1a1a1a" stroke-width="1.3"/>
<line x1="482.00" y1="404.30" x2="482.00" y2="407.40" stroke="#1a1a1a" stroke-width="1.3"/>
<text x="444.50" y="260.60" font-size="9.8" text-anchor="middle" fill="#1c1c1c" font-weight="normal" textLength="54.20" lengthAdjust="spacingAndGlyphs">Epinephrine</text>
<line x1="406.00" y1="279.60" x2="481.80" y2="279.60" stroke="#262626" stroke-width="1.05"/>
<line x1="406.00" y1="297.60" x2="456.80" y2="297.60" stroke="#262626" stroke-width="1.05"/>
<line x1="406.00" y1="314.50" x2="431.40" y2="314.50" stroke="#262626" stroke-width="1.05"/>
<text x="443.90" y="276.40" font-size="7.6" text-anchor="middle" fill="#1c1c1c" font-weight="normal" textLength="28.80" lengthAdjust="spacingAndGlyphs">&lt;0.0001</text>
<text x="431.50" y="294.40" font-size="7.6" text-anchor="middle" fill="#1c1c1c" font-weight="normal" textLength="24.00" lengthAdjust="spacingAndGlyphs">0.0007</text>
<text x="418.90" y="311.40" font-size="7.6" text-anchor="middle" fill="#1c1c1c" font-weight="normal" textLength="11.20" lengthAdjust="spacingAndGlyphs">NS</text>
<text transform="translate(359.70,337.90) rotate(-90)" font-size="7.6" text-anchor="middle" fill="#1c1c1c" textLength="51.80" lengthAdjust="spacingAndGlyphs">Jon/A:PE (MFI)</text>
<circle cx="400.50" cy="331.10" r="2.3" fill="#4a1966"/>
<circle cx="411.90" cy="327.50" r="2.3" fill="#4a1966"/>
<circle cx="406.10" cy="364.70" r="2.3" fill="#4a1966"/>
<circle cx="400.50" cy="375.80" r="2.3" fill="#4a1966"/>
<circle cx="411.90" cy="376.50" r="2.3" fill="#4a1966"/>
<circle cx="406.10" cy="381.40" r="2.3" fill="#4a1966"/>
<rect x="423.25" y="362.05" width="4.7" height="4.7" fill="#59a837"/>
<rect x="429.25" y="360.05" width="4.7" height="4.7" fill="#59a837"/>
<rect x="435.15" y="362.05" width="4.7" height="4.7" fill="#59a837"/>
<rect x="429.25" y="365.65" width="4.7" height="4.7" fill="#59a837"/>
<rect x="429.25" y="369.95" width="4.7" height="4.7" fill="#59a837"/>
<rect x="429.25" y="374.15" width="4.7" height="4.7" fill="#59a837"/>
<path d="M451.20 320.80L453.65 325.20L448.75 325.20Z" fill="#1a3f80"/>
<path d="M462.20 320.10L464.65 324.50L459.75 324.50Z" fill="#1a3f80"/>
<path d="M456.50 322.40L458.95 326.80L454.05 326.80Z" fill="#1a3f80"/>
<path d="M456.50 333.10L458.95 337.50L454.05 337.50Z" fill="#1a3f80"/>
<path d="M451.20 336.70L453.65 341.10L448.75 341.10Z" fill="#1a3f80"/>
<path d="M462.50 335.40L464.95 339.80L460.05 339.80Z" fill="#1a3f80"/>
<path d="M473.90 289.15L478.90 289.15L476.40 293.65Z" fill="#b00b2e"/>
<path d="M485.30 285.25L490.30 285.25L487.80 289.75Z" fill="#b00b2e"/>
<path d="M485.30 293.95L490.30 293.95L487.80 298.45Z" fill="#b00b2e"/>
<path d="M473.90 303.55L478.90 303.55L476.40 308.05Z" fill="#b00b2e"/>
<path d="M485.30 304.45L490.30 304.45L487.80 308.95Z" fill="#b00b2e"/>
<path d="M479.40 320.85L484.40 320.85L481.90 325.35Z" fill="#b00b2e"/>
<line x1="397.85" y1="359.50" x2="414.55" y2="359.50" stroke="#1c1c1c" stroke-width="1.5"/>
<line x1="406.20" y1="349.80" x2="406.20" y2="369.10" stroke="#1c1c1c" stroke-width="1.2"/>
<line x1="401.80" y1="349.80" x2="410.60" y2="349.80" stroke="#1c1c1c" stroke-width="1.2"/>
<line x1="401.80" y1="369.10" x2="410.60" y2="369.10" stroke="#1c1c1c" stroke-width="1.2"/>
<line x1="423.15" y1="368.00" x2="440.05" y2="368.00" stroke="#1c1c1c" stroke-width="1.5"/>
<line x1="431.60" y1="365.70" x2="431.60" y2="370.30" stroke="#1c1c1c" stroke-width="1.2"/>
<line x1="427.60" y1="365.70" x2="435.60" y2="365.70" stroke="#1c1c1c" stroke-width="1.2"/>
<line x1="427.60" y1="370.30" x2="435.60" y2="370.30" stroke="#1c1c1c" stroke-width="1.2"/>
<line x1="448.40" y1="329.70" x2="464.80" y2="329.70" stroke="#1c1c1c" stroke-width="1.5"/>
<line x1="456.60" y1="326.10" x2="456.60" y2="333.00" stroke="#1c1c1c" stroke-width="1.2"/>
<line x1="452.50" y1="326.10" x2="460.70" y2="326.10" stroke="#1c1c1c" stroke-width="1.2"/>
<line x1="452.50" y1="333.00" x2="460.70" y2="333.00" stroke="#1c1c1c" stroke-width="1.2"/>
<line x1="473.55" y1="302.10" x2="490.65" y2="302.10" stroke="#1c1c1c" stroke-width="1.5"/>
<line x1="482.10" y1="296.50" x2="482.10" y2="307.40" stroke="#1c1c1c" stroke-width="1.2"/>
<line x1="478.15" y1="296.50" x2="486.05" y2="296.50" stroke="#1c1c1c" stroke-width="1.2"/>
<line x1="478.15" y1="307.40" x2="486.05" y2="307.40" stroke="#1c1c1c" stroke-width="1.2"/>
<text transform="translate(409.60,414.60) rotate(-45)" font-size="8.6" text-anchor="end" fill="#1c1c1c" textLength="35.15" lengthAdjust="spacingAndGlyphs">Wild type</text>
<text transform="translate(434.80,414.60) rotate(-45)" font-size="8.6" text-anchor="end" fill="#1c1c1c" textLength="30.58" lengthAdjust="spacingAndGlyphs">RGS18<tspan font-size="4.2" dy="-3.3">−/−</tspan></text>
<text transform="translate(460.10,414.60) rotate(-45)" font-size="8.6" text-anchor="end" fill="#1c1c1c" textLength="30.58" lengthAdjust="spacingAndGlyphs">RGS10<tspan font-size="4.2" dy="-3.3">−/−</tspan></text>
<text transform="translate(485.40,414.60) rotate(-45)" font-size="8.6" text-anchor="end" fill="#1c1c1c" textLength="46.80" lengthAdjust="spacingAndGlyphs">RGS10<tspan font-size="4.2" dy="-3.3">−/−</tspan><tspan dy="3.3">18</tspan><tspan font-size="4.2" dy="-3.3">−/−</tspan></text>
</svg>
</body></html>
